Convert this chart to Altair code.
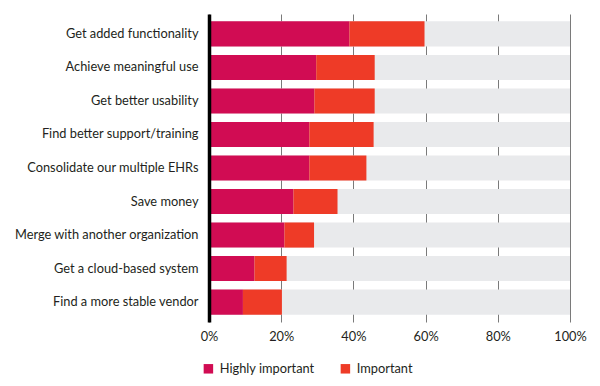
import altair as alt
import pandas as pd

categories = [
    "Get added functionality",
    "Achieve meaningful use",
    "Get better usability",
    "Find better support/training",
    "Consolidate our multiple EHRs",
    "Save money",
    "Merge with another organization",
    "Get a cloud-based system",
    "Find a more stable vendor",
]
highly_important = [38.9, 29.7, 29.2, 27.8, 27.8, 23.4, 20.9, 12.6, 9.4]
important = [20.8, 16.2, 16.7, 17.8, 15.8, 12.2, 8.2, 8.9, 10.8]
series = ["Highly important", "Important"]
colors = ["#d10c53", "#ee3b27"]
ticks = [0, 20, 40, 60, 80, 100]

rows = []
for i, c in enumerate(categories):
    rows.append({"cat": c, "series": series[0], "val": highly_important[i], "ord": 0})
    rows.append({"cat": c, "series": series[1], "val": important[i], "ord": 1})
df = pd.DataFrame(rows)
bg = pd.DataFrame({"cat": categories, "lo": [0] * len(categories), "hi": [100] * len(categories)})

FONT = "Lato"
yscale = alt.Scale(domain=categories, paddingInner=0.25, paddingOuter=0.22)
xscale = alt.Scale(domain=[0, 100], nice=False)

back = alt.Chart(bg).mark_bar(color="#e9eaec").encode(
    y=alt.Y("cat:N", scale=yscale, sort=categories, title=None,
            axis=alt.Axis(domain=True, domainColor="#000000", domainWidth=3.5,
                          ticks=False, labelPadding=11, labelFontSize=12.8, labelLimit=260,
                          labelColor="#231f20", labelFont=FONT, zindex=1, grid=False)),
    x=alt.X("lo:Q", scale=xscale, title=None,
            axis=alt.Axis(values=ticks, format=".0f", labelExpr="datum.value + '%'",
                          domain=False, ticks=False, grid=True, gridColor="#7a7a7a",
                          gridWidth=1, labelPadding=8, labelFontSize=12.8,
                          labelFlush=False, labelBound=False,
                          labelColor="#231f20", labelFont=FONT)),
    x2="hi:Q",
)

fg = alt.Chart(df).mark_bar().encode(
    y=alt.Y("cat:N", scale=yscale, sort=categories),
    x=alt.X("val:Q", stack="zero", scale=xscale),
    color=alt.Color("series:N", scale=alt.Scale(domain=series, range=colors),
                    legend=alt.Legend(title=None, orient="none", legendX=-7, legendY=348,
                                      direction="horizontal", symbolType="square",
                                      symbolSize=90, symbolStrokeWidth=0, symbolOpacity=1,
                                      labelFontSize=12.8, labelFont=FONT, labelColor="#231f20",
                                      columnPadding=24, labelOffset=5, padding=0)),
    order=alt.Order("ord:Q"),
)

chart = alt.layer(back, fg).properties(
    width=361, height=308,
    autosize=alt.AutoSizeParams(type="none"),
    padding={"left": 201, "top": 6, "right": 22, "bottom": 56},
).configure_view(stroke=None).configure_axis(gridOpacity=1)

chart.save("out.html", embed_options={"renderer": "svg", "actions": False})
